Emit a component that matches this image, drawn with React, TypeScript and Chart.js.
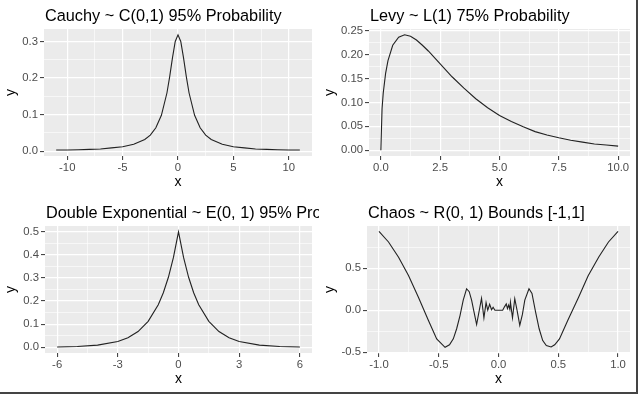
import React, { useEffect, useRef } from 'react';
import { Chart, registerables } from 'chart.js';
Chart.register(...registerables);

// ---------- Data ----------
const cauchyX = [-11, -10, -9, -8, -7, -6, -5, -4, -3, -2.5, -2, -1.5, -1, -0.75, -0.5, -0.25, 0, 0.25, 0.5, 0.75, 1, 1.5, 2, 2.5, 3, 4, 5, 6, 7, 8, 9, 10, 11];
const cauchyY = [0.003, 0.003, 0.004, 0.005, 0.006, 0.009, 0.012, 0.019, 0.032, 0.044, 0.064, 0.098, 0.159, 0.204, 0.255, 0.3, 0.318, 0.3, 0.255, 0.204, 0.159, 0.098, 0.064, 0.044, 0.032, 0.019, 0.012, 0.009, 0.006, 0.005, 0.004, 0.003, 0.003];

const levyX = [0, 0.05, 0.1, 0.2, 0.3, 0.5, 0.75, 1, 1.25, 1.5, 1.75, 2, 2.5, 3, 3.5, 4, 4.5, 5, 5.5, 6, 6.5, 7, 7.5, 8, 8.5, 9, 9.5, 10];
const levyY = [0, 0.087, 0.12, 0.161, 0.188, 0.22, 0.237, 0.242, 0.239, 0.231, 0.22, 0.208, 0.181, 0.154, 0.13, 0.108, 0.089, 0.073, 0.06, 0.049, 0.039, 0.032, 0.026, 0.021, 0.017, 0.013, 0.011, 0.0085];

const dexpX = [-6, -5, -4, -3, -2.5, -2, -1.5, -1, -0.75, -0.5, -0.25, 0, 0.25, 0.5, 0.75, 1, 1.5, 2, 2.5, 3, 4, 5, 6];
const dexpY = [0.001, 0.003, 0.009, 0.025, 0.041, 0.068, 0.112, 0.184, 0.236, 0.303, 0.389, 0.5, 0.389, 0.303, 0.236, 0.184, 0.112, 0.068, 0.041, 0.025, 0.009, 0.003, 0.001];

const chaosX = [-1, -0.92, -0.836, -0.753, -0.67, -0.586, -0.517, -0.447, -0.41, -0.378, -0.35, -0.322, -0.295, -0.267, -0.245, -0.225, -0.205, -0.183, -0.142, -0.122, -0.104, -0.09, -0.074, -0.058, -0.045, -0.03, -0.01, 0.01, 0.035, 0.05, 0.065, 0.075, 0.085, 0.095, 0.1, 0.117, 0.136, 0.155, 0.178, 0.2, 0.22, 0.255, 0.28, 0.31, 0.34, 0.37, 0.4, 0.44, 0.47, 0.51, 0.58, 0.67, 0.75, 0.84, 0.92, 1];
const chaosY = [0.935, 0.81, 0.63, 0.413, 0.155, -0.123, -0.34, -0.44, -0.41, -0.34, -0.22, -0.063, 0.12, 0.255, 0.22, 0.12, -0.02, -0.17, 0.14, -0.09, 0.09, 0.0, 0.07, 0.005, 0.035, 0.0, 0.0, 0.0, 0.0, 0.04, 0.075, 0.02, 0.06, 0.01, 0.095, -0.09, 0.136, 0.0, -0.18, -0.05, 0.12, 0.255, 0.2, -0.02, -0.22, -0.36, -0.42, -0.436, -0.41, -0.34, -0.12, 0.155, 0.41, 0.635, 0.81, 0.935];

// tick values / labels
const cauchyXTicks = [-10, -5, 0, 5, 10];
const cauchyXLabels = ['-10', '-5', '0', '5', '10'];
const cauchyXMinor = [-7.5, -2.5, 2.5, 7.5];
const cauchyYTicks = [0, 0.1, 0.2, 0.3];
const cauchyYLabels = ['0.0', '0.1', '0.2', '0.3'];
const cauchyYMinor = [0.05, 0.15, 0.25];

const levyXTicks = [0, 2.5, 5, 7.5, 10];
const levyXLabels = ['0.0', '2.5', '5.0', '7.5', '10.0'];
const levyXMinor = [1.25, 3.75, 6.25, 8.75];
const levyYTicks = [0, 0.05, 0.1, 0.15, 0.2, 0.25];
const levyYLabels = ['0.00', '0.05', '0.10', '0.15', '0.20', '0.25'];
const levyYMinor = [0.025, 0.075, 0.125, 0.175, 0.225];

const dexpXTicks = [-6, -3, 0, 3, 6];
const dexpXLabels = ['-6', '-3', '0', '3', '6'];
const dexpXMinor = [-4.5, -1.5, 1.5, 4.5];
const dexpYTicks = [0, 0.1, 0.2, 0.3, 0.4, 0.5];
const dexpYLabels = ['0.0', '0.1', '0.2', '0.3', '0.4', '0.5'];
const dexpYMinor = [0.05, 0.15, 0.25, 0.35, 0.45];

const chaosXTicks = [-1, -0.5, 0, 0.5, 1];
const chaosXLabels = ['-1.0', '-0.5', '0.0', '0.5', '1.0'];
const chaosXMinor = [-0.75, -0.25, 0.25, 0.75];
const chaosYTicks = [-0.5, 0, 0.5];
const chaosYLabels = ['-0.5', '0.0', '0.5'];
const chaosYMinor = [-0.25, 0.25, 0.75];

const titles = [
  'Cauchy ~ C(0,1) 95% Probability',
  'Levy ~ L(1) 75% Probability',
  'Double Exponential ~ E(0, 1) 95% Probability',
  'Chaos ~ R(0, 1) Bounds [-1,1]',
];

const FONT = '"Liberation Sans", Arial, sans-serif';

type Panel = {
  title: string;
  xs: number[]; ys: number[];
  xRange: [number, number]; yRange: [number, number];
  xTicks: number[]; xLabels: string[]; xMinor: number[];
  yTicks: number[]; yLabels: string[]; yMinor: number[];
  yWidth: number; padRight: number;
};

const panels: Panel[] = [
  { title: titles[0], xs: cauchyX, ys: cauchyY, xRange: [-12.1, 12.1], yRange: [-0.0132, 0.334],
    xTicks: cauchyXTicks, xLabels: cauchyXLabels, xMinor: cauchyXMinor,
    yTicks: cauchyYTicks, yLabels: cauchyYLabels, yMinor: cauchyYMinor, yWidth: 44, padRight: 7 },
  { title: titles[1], xs: levyX, ys: levyY, xRange: [-0.5, 10.5], yRange: [-0.0121, 0.2541],
    xTicks: levyXTicks, xLabels: levyXLabels, xMinor: levyXMinor,
    yTicks: levyYTicks, yLabels: levyYLabels, yMinor: levyYMinor, yWidth: 50, padRight: 8 },
  { title: titles[2], xs: dexpX, ys: dexpY, xRange: [-6.6, 6.6], yRange: [-0.025, 0.525],
    xTicks: dexpXTicks, xLabels: dexpXLabels, xMinor: dexpXMinor,
    yTicks: dexpYTicks, yLabels: dexpYLabels, yMinor: dexpYMinor, yWidth: 45, padRight: 7 },
  { title: titles[3], xs: chaosX, ys: chaosY, xRange: [-1.1, 1.1], yRange: [-0.508, 1.0],
    xTicks: chaosXTicks, xLabels: chaosXLabels, xMinor: chaosXMinor,
    yTicks: chaosYTicks, yLabels: chaosYLabels, yMinor: chaosYMinor, yWidth: 48, padRight: 8 },
];

function axisOpts(ticks: number[], labels: string[], minor: number[], range: [number, number], titleText: string, isX: boolean, size: number) {
  const all = [...ticks, ...minor].filter(v => v >= range[0] && v <= range[1]).sort((a, b) => a - b);
  const labelMap = new Map<number, string>();
  ticks.forEach((t, i) => labelMap.set(t, labels[i]));
  const isMajor = (ctx: any) => ctx.tick && labelMap.has(ctx.tick.value);
  return {
    type: 'linear',
    min: range[0],
    max: range[1],
    afterBuildTicks: (s: any) => { s.ticks = all.map(v => ({ value: v })); },
    afterFit: (s: any) => { if (isX) s.height = size; else s.width = size; },
    ticks: {
      autoSkip: false,
      maxRotation: 0,
      padding: isX ? 1 : 2,
      color: '#4D4D4D',
      font: { family: FONT, size: 11.3 },
      callback: (v: number) => labelMap.get(v) ?? '',
    },
    grid: {
      color: '#FFFFFF',
      lineWidth: (ctx: any) => (isMajor(ctx) ? 1.2 : 0.6),
      tickLength: 4,
      tickWidth: 1,
      tickColor: (ctx: any) => (isMajor(ctx) ? '#333333' : 'rgba(0,0,0,0)'),
    },
    border: { display: false },
    title: {
      display: true,
      text: titleText,
      color: '#000000',
      font: { family: FONT, size: 14 },
      padding: isX ? { top: 0, bottom: 6.5 } : { top: 2.5, bottom: 0 },
    },
  };
}

function ChartPanel({ p }: { p: Panel }) {
  const ref = useRef<HTMLCanvasElement | null>(null);
  useEffect(() => {
    if (!ref.current) return;
    const bgPlugin = {
      id: 'panelBg',
      beforeDraw(chart: any) {
        const { ctx, chartArea: a } = chart;
        ctx.save();
        ctx.fillStyle = '#EBEBEB';
        ctx.fillRect(a.left, a.top, a.right - a.left, a.bottom - a.top);
        ctx.restore();
      },
    };
    const titlePlugin = {
      id: 'ggTitle',
      afterDraw(chart: any) {
        const { ctx, chartArea: a } = chart;
        ctx.save();
        ctx.font = `16.3px ${FONT}`;
        ctx.fillStyle = '#000000';
        ctx.textBaseline = 'alphabetic';
        ctx.textAlign = 'left';
        ctx.fillText(p.title, a.left + 1, 21);
        ctx.restore();
      },
    };
    const chart = new Chart(ref.current, {
      type: 'line',
      data: {
        datasets: [{
          data: p.xs.map((x, i) => ({ x, y: p.ys[i] })),
          borderColor: '#222222',
          borderWidth: 1.1,
          pointRadius: 0,
          tension: 0,
          fill: false,
        }],
      },
      options: {
        animation: false,
        responsive: false,
        devicePixelRatio: 1,
        layout: { padding: { top: 29, right: p.padRight, bottom: 0, left: 0 } },
        plugins: { legend: { display: false }, tooltip: { enabled: false }, title: { display: false } },
        scales: {
          x: axisOpts(p.xTicks, p.xLabels, p.xMinor, p.xRange, 'x', true, 41) as any,
          y: axisOpts(p.yTicks, p.yLabels, p.yMinor, p.yRange, 'y', false, p.yWidth) as any,
        },
      },
      plugins: [bgPlugin, titlePlugin],
    });
    return () => chart.destroy();
  }, [p]);
  return <canvas ref={ref} width={319} height={197} style={{ display: 'block', width: 319, height: 197 }} />;
}

export default function App() {
  return (
    <div style={{ position: 'absolute', left: 0, top: 0, width: 638, height: 394, background: '#FFFFFF', overflow: 'hidden' }}>
      {panels.map((p, i) => (
        <div key={i} style={{ position: 'absolute', left: (i % 2) * 319, top: Math.floor(i / 2) * 197, width: 319, height: 197 }}>
          <ChartPanel p={p} />
        </div>
      ))}
      <div style={{ position: 'absolute', left: 636, top: 0, width: 2, height: 394, background: '#444444' }} />
      <div style={{ position: 'absolute', left: 0, top: 392, width: 638, height: 2, background: '#444444' }} />
    </div>
  );
}
